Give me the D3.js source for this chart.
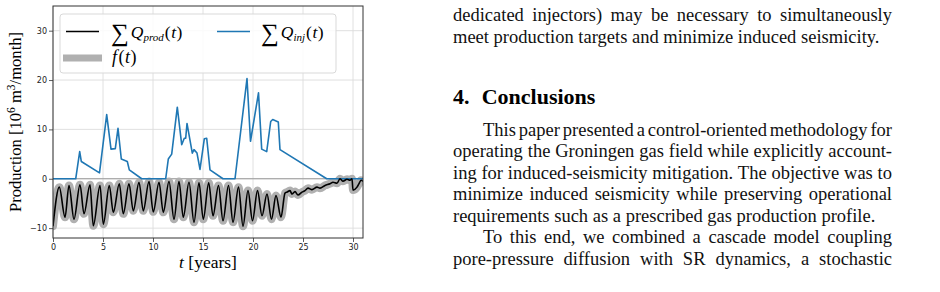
<!DOCTYPE html>
<html>
<head>
<meta charset="utf-8">
<script src="https://cdn.jsdelivr.net/npm/d3@7"></script>
<style>
  body { margin: 0; background: #fff; }
  svg { display: block; }
</style>
</head>
<body>
<svg width="940" height="292"></svg>
<script>
const width = 940, height = 292;
const svg = d3.select("svg");

// ---- chart data ----
const injYears = [0, 2.27, 2.67, 2.83, 4.65, 5.37, 5.8, 6.23, 6.5, 6.83, 7.43, 7.63, 8.87,
    11.27, 11.53, 11.87, 12.43, 12.87, 13.13, 13.27, 13.4, 13.93, 14.1, 14.4, 14.7, 15.13, 15.37, 15.7, 17.0,
    18.2, 19.4, 19.75, 20.55, 20.87, 21.37, 21.77, 21.97, 22.53, 22.7, 27.37, 31];
const injValues = [0, 0, 5.5, 3.5, 1.2, 13.0, 6.0, 6.1, 10.2, 4.0, 3.5, 1.8, 0,
    0, 4.0, 5.0, 14.5, 6.9, 8.2, 8.2, 11.2, 5.2, 5.9, 5.2, 1.9, 8.1, 8.2, 1.8, 0,
    0, 20.3, 7.6, 17.4, 6.0, 5.5, 11.6, 12.0, 11.5, 5.9, 0, 0];

const prodYears = [0, 0.63, 1.2, 1.6, 2.1, 2.7, 3.1, 3.7, 4.03, 4.7, 5.03, 5.63, 6.03, 6.63, 7.03, 7.6,
    8.03, 8.6, 9.03, 9.6, 10.03, 10.6, 11.03, 11.6, 12.1, 12.6, 13.03, 13.6, 14.1, 14.6, 15.03, 15.57,
    16.0, 16.55, 17.0, 17.55, 18.0, 18.55, 19.0, 19.5, 19.95, 20.45, 20.9, 21.4, 21.85, 22.3, 22.8, 23.2,
    23.4, 23.7, 23.9, 24.2, 24.5, 24.9, 25.2, 25.5, 25.9, 26.4, 26.7, 27.2, 27.7, 28.0, 28.4, 28.7,
    29.0, 29.4, 29.7, 29.9, 30.0, 30.4, 30.6, 30.8, 31];
const prodValues = [-9.6, -1.7, -7.8, -1.35, -8.2, -1.2, -7.1, -1.2, -9.5, -1.35, -9.2, -1.35, -6.8, -1.0, -7.1, -1.0,
    -6.5, -0.7, -6.5, -0.55, -6.7, -0.7, -6.8, -0.55, -8.2, -0.55, -7.8, -0.7, -8.8, -0.8, -8.2, -0.8,
    -7.5, -1.35, -8.5, -1.35, -8.8, -1.7, -9.6, -2.4, -8.5, -2.4, -7.5, -3.1, -8.2, -3.4, -7.8, -2.9,
    -2.7, -2.4, -3.1, -2.6, -3.3, -2.7, -2.4, -1.9, -2.2, -1.7, -1.9, -1.35, -1.0, -0.7, -0.9, 0.0,
    -0.5, -0.1, -0.3, 0.0, -2.3, -1.7, -1.0, -0.3, -0.5];

const xTicks = [0, 5, 10, 15, 20, 25, 30];
const yTicks = [-10, 0, 10, 20, 30];

// ---- page text ----
const topLines = [
    { text: "dedicated injectors) may be necessary to simultaneously", justify: true, indent: false },
    { text: "meet production targets and minimize induced seismicity.", justify: false, indent: false }
];
const bodyLines = [
    { text: "This paper presented a control-oriented methodology for", justify: true, indent: true },
    { text: "operating the Groningen gas field while explicitly account-", justify: true, indent: false },
    { text: "ing for induced-seismicity mitigation. The objective was to", justify: true, indent: false },
    { text: "minimize induced seismicity while preserving operational", justify: true, indent: false },
    { text: "requirements such as a prescribed gas production profile.", justify: false, indent: false },
    { text: "To this end, we combined a cascade model coupling", justify: true, indent: true },
    { text: "pore-pressure diffusion with SR dynamics, a stochastic", justify: true, indent: false }
];

const plot = { left: 53, right: 363, top: 6, bottom: 238 };
const serif = "'Liberation Serif', 'Times New Roman', serif";

const x = d3.scaleLinear().domain([0, 31]).range([plot.left, plot.right]);
const y = d3.scaleLinear().domain([-12, 35]).range([plot.bottom, plot.top]);

svg.append("rect").attr("width", width).attr("height", height).attr("fill", "#fff");

drawChart();
drawText();

function drawChart() {
    // grid
    const grid = svg.append("g").attr("stroke", "#dcdcdc").attr("stroke-width", 0.9);
    grid.selectAll(".vg").data(xTicks).enter().append("line")
        .attr("x1", d => x(d)).attr("x2", d => x(d))
        .attr("y1", plot.top).attr("y2", plot.bottom);
    grid.selectAll(".hg").data(yTicks).enter().append("line")
        .attr("x1", plot.left).attr("x2", plot.right)
        .attr("y1", d => y(d)).attr("y2", d => y(d));

    // zero line
    svg.append("line")
        .attr("x1", plot.left).attr("x2", plot.right)
        .attr("y1", y(0)).attr("y2", y(0))
        .attr("stroke", "#9a9a9a").attr("stroke-width", 1.2);

    svg.append("defs").append("clipPath").attr("id", "plotClip")
        .append("rect").attr("x", plot.left).attr("y", plot.top)
        .attr("width", plot.right - plot.left).attr("height", plot.bottom - plot.top);

    const prodData = prodYears.map((t, i) => [t, prodValues[i]]);
    const injData = injYears.map((t, i) => [t, injValues[i]]);

    const smooth = d3.line().x(d => x(d[0])).y(d => y(d[1])).curve(d3.curveMonotoneX);
    const straight = d3.line().x(d => x(d[0])).y(d => y(d[1]));

    const lines = svg.append("g").attr("clip-path", "url(#plotClip)");
    // target f(t) as thick grey band
    lines.append("path").attr("d", smooth(prodData))
        .attr("fill", "none").attr("stroke", "#b0b0b0").attr("stroke-width", 8)
        .attr("stroke-linejoin", "round").attr("stroke-linecap", "round");
    lines.append("path").attr("d", straight(injData))
        .attr("fill", "none").attr("stroke", "#1f77b4").attr("stroke-width", 1.6)
        .attr("stroke-linejoin", "round");
    lines.append("path").attr("d", smooth(prodData))
        .attr("fill", "none").attr("stroke", "#000").attr("stroke-width", 1.6)
        .attr("stroke-linejoin", "round");

    // axes
    const xAxis = svg.append("g").attr("transform", `translate(0,${plot.bottom})`)
        .call(d3.axisBottom(x).tickValues(xTicks).tickSize(4).tickPadding(2).tickSizeOuter(0));
    const yAxis = svg.append("g").attr("transform", `translate(${plot.left},0)`)
        .call(d3.axisLeft(y).tickValues(yTicks).tickSize(4).tickPadding(2).tickSizeOuter(0)
            .tickFormat(d => d < 0 ? "\u2212" + Math.abs(d) : d));
    [xAxis, yAxis].forEach(a => {
        a.select(".domain").remove();
        a.selectAll(".tick line").attr("stroke", "#333").attr("stroke-width", 0.8);
        a.selectAll(".tick text").attr("fill", "#222")
            .style("font-family", "'DejaVu Sans', sans-serif").style("font-size", "8px");
    });

    // frame
    svg.append("rect").attr("x", plot.left).attr("y", plot.top)
        .attr("width", plot.right - plot.left).attr("height", plot.bottom - plot.top)
        .attr("fill", "none").attr("stroke", "#333").attr("stroke-width", 1);

    drawLegend();
    drawAxisLabels();
}

function drawLegend() {
    const lg = svg.append("g");
    lg.append("rect").attr("x", 60).attr("y", 14).attr("width", 276).attr("height", 59)
        .attr("rx", 3).attr("fill", "#fff").attr("fill-opacity", 0.85)
        .attr("stroke", "#d9d9d9").attr("stroke-width", 1);

    lg.append("line").attr("x1", 66).attr("x2", 99).attr("y1", 31.5).attr("y2", 31.5)
        .attr("stroke", "#000").attr("stroke-width", 1.6);
    lg.append("line").attr("x1", 217).attr("x2", 250).attr("y1", 31.5).attr("y2", 31.5)
        .attr("stroke", "#1f77b4").attr("stroke-width", 1.6);
    lg.append("line").attr("x1", 63).attr("x2", 102).attr("y1", 58).attr("y2", 58)
        .attr("stroke", "#b0b0b0").attr("stroke-width", 7);

    sumLabel(lg, 111, 37.5, "prod");
    sumLabel(lg, 261, 37.5, "inj");

    const f = lg.append("text").attr("x", 112).attr("y", 63)
        .style("font-family", serif).style("font-size", "18px");
    f.append("tspan").style("font-style", "italic").text("f");
    f.append("tspan").attr("dx", 1.5).text("(");
    f.append("tspan").attr("dx", 0.5).style("font-style", "italic").text("t");
    f.append("tspan").attr("dx", 0.5).text(")");
}

function sumLabel(g, x0, base, sub) {
    const t = g.append("text").attr("x", x0).attr("y", base)
        .style("font-family", serif).style("font-size", "17.5px");
    t.append("tspan").style("font-size", "25px").attr("dy", 3).text("\u2211");
    t.append("tspan").attr("dy", -3).attr("dx", 2).style("font-style", "italic").text("Q");
    t.append("tspan").attr("dy", 3.5).style("font-style", "italic").style("font-size", "11px").text(sub);
    t.append("tspan").attr("dy", -3.5).attr("dx", 1).text("(");
    t.append("tspan").attr("dx", 0.5).style("font-style", "italic").text("t");
    t.append("tspan").attr("dx", 0.5).text(")");
}

function drawAxisLabels() {
    const xl = svg.append("text").attr("x", 208).attr("y", 268).attr("text-anchor", "middle")
        .style("font-family", serif).style("font-size", "17.5px");
    xl.append("tspan").style("font-style", "italic").text("t");
    xl.append("tspan").text(" [years]");

    const yl = svg.append("text").attr("transform", `translate(21,${(plot.top + plot.bottom) / 2}) rotate(-90)`)
        .attr("text-anchor", "middle")
        .style("font-family", serif).style("font-size", "16.6px");
    yl.append("tspan").text("Production [10");
    yl.append("tspan").attr("dy", -6).style("font-size", "11.5px").text("6");
    yl.append("tspan").attr("dy", 6).text(" m");
    yl.append("tspan").attr("dy", -6).style("font-size", "11.5px").text("3");
    yl.append("tspan").attr("dy", 6).text("/month]");
}

function drawText() {
    const left = 453, right = 892, indent = 30;
    const fontSize = 18.5;

    topLines.forEach((ln, i) => justifiedLine(ln, 21 + i * 21.5));

    const head = svg.append("g").style("font-family", serif).style("font-size", "22px")
        .style("font-weight", "bold");
    head.append("text").attr("x", left).attr("y", 104).text("4.");
    head.append("text").attr("x", 481.7).attr("y", 104).text("Conclusions");

    bodyLines.forEach((ln, i) => justifiedLine(ln, 135.5 + i * 21.5));

    function justifiedLine(ln, baseline) {
        const startX = left + (ln.indent ? indent : 0);
        const words = ln.text.split(" ");
        const g = svg.append("g").style("font-family", serif).style("font-size", fontSize + "px")
            .attr("fill", "#111");
        const nodes = words.map(w => g.append("text").attr("y", baseline).text(w));
        const widths = nodes.map(n => n.node().getComputedTextLength());
        const total = d3.sum(widths);
        const gap = ln.justify ? (right - startX - total) / (words.length - 1) : fontSize * 0.25;
        let cx = startX;
        nodes.forEach((n, i) => {
            n.attr("x", cx);
            cx += widths[i] + gap;
        });
    }
}
</script>
</body>
</html>
